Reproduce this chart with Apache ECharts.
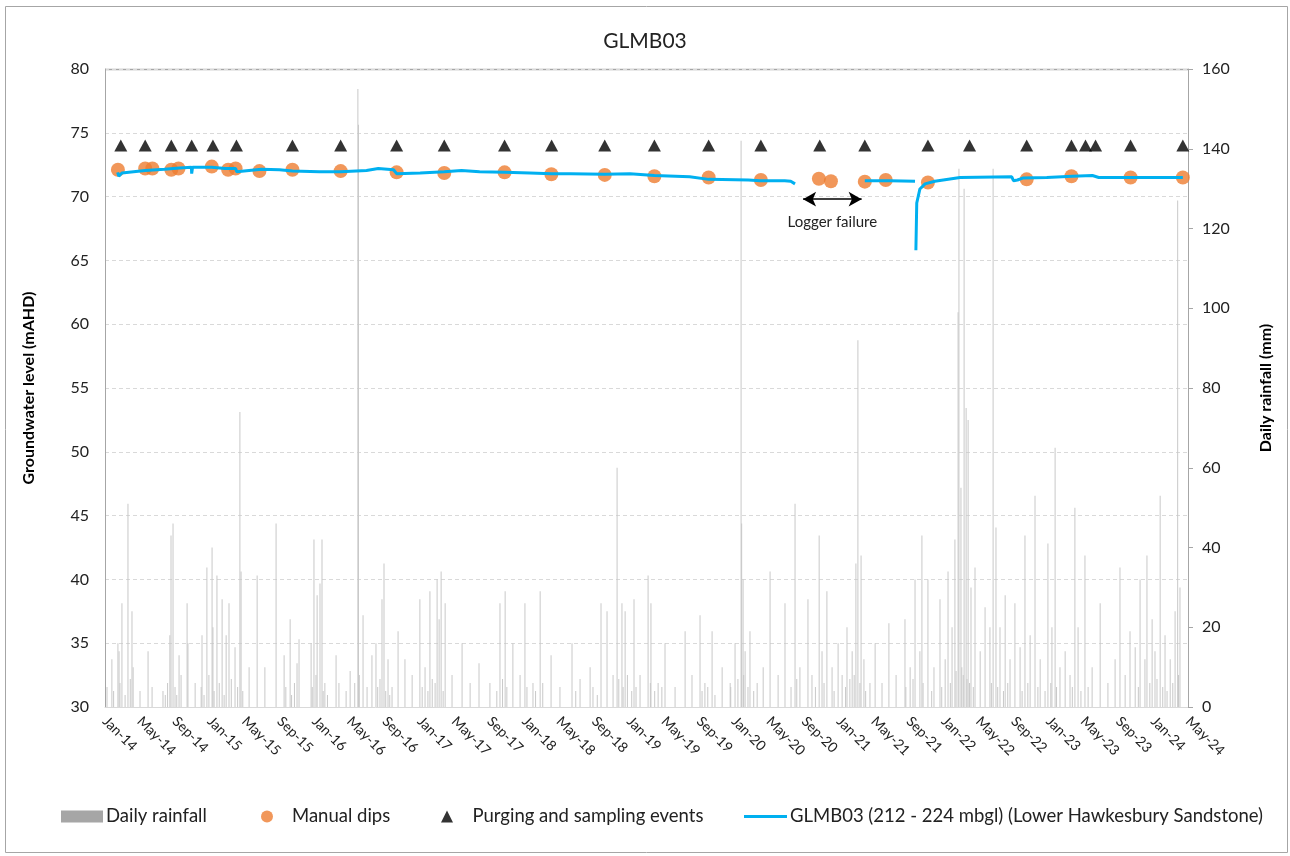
<!DOCTYPE html>
<html>
<head>
<meta charset="utf-8">
<title>GLMB03</title>
<script src="https://cdn.jsdelivr.net/npm/echarts@6/dist/echarts.min.js"></script>
<style>
  html, body { margin: 0; padding: 0; background: #fff; }
  #chart { width: 1290px; height: 856px; }
</style>
</head>
<body>
<div id="chart"></div>
<script>
// x axis tick labels (every 4 months)
var tickLabels = ['Jan-14','May-14','Sep-14','Jan-15','May-15','Sep-15','Jan-16','May-16','Sep-16',
  'Jan-17','May-17','Sep-17','Jan-18','May-18','Sep-18','Jan-19','May-19','Sep-19','Jan-20','May-20',
  'Sep-20','Jan-21','May-21','Sep-21','Jan-22','May-22','Sep-22','Jan-23','May-23','Sep-23','Jan-24','May-24'];

// daily rainfall (mm): [days since 1 Jan 2014, mm]
var rainfall = [
  [7,5],[24,12],[45,16],[49,14],[59,26],[80,51],[94,24],[98,10],[122,4],[150,14],[164,5],[202,4],
  [226,18],[230,43],[237,46],[258,13],[265,8],[286,26],[289,16],[314,6],[338,18],[355,35],[373,40],
  [376,20],[390,33],[408,27],[422,18],[432,26],[453,15],[470,74],[474,34],[502,10],[530,33],[557,10],
  [596,46],[624,13],[645,22],[669,11],[676,17],[718,16],[728,42],[739,28],[749,31],[756,42],[766,6],
  [805,13],[815,6],[854,9],[881,155],[883,146],[899,23],[913,5],[930,13],[944,16],[965,27],[972,36],
  [986,12],[1000,5],[1021,19],[1045,12],[1070,8],[1097,27],[1115,10],[1132,29],[1157,32],[1164,22],
  [1171,34],[1185,26],[1209,8],[1244,16],[1272,6],[1303,11],[1341,6],[1376,26],[1394,29],[1421,16],
  [1446,8],[1463,26],[1491,6],[1516,29],[1554,13],[1585,5],[1627,16],[1655,7],[1690,10],[1728,26],
  [1749,24],[1770,8],[1784,60],[1801,26],[1812,24],[1843,27],[1864,8],[1892,33],[1902,26],[1927,6],
  [1951,16],[1986,5],[2021,19],[2045,8],[2073,23],[2090,6],[2115,19],[2150,10],[2178,6],[2195,16],
  [2216,142],[2218,46],[2223,32],[2230,14],[2247,19],[2272,6],[2293,10],[2317,34],[2345,8],[2369,26],
  [2404,51],[2421,10],[2449,27],[2463,8],[2488,43],[2498,14],[2515,29],[2533,10],[2554,16],[2568,8],
  [2585,20],[2603,14],[2616,36],[2623,92],[2634,38],[2644,12],[2665,6],[2683,16],[2707,6],[2731,21],
  [2756,8],[2787,22],[2805,10],[2822,32],[2839,14],[2846,43],[2867,32],[2888,10],[2909,27],[2927,12],
  [2937,34],[2951,20],[2961,42],[2972,99],[2975,135],[2982,55],[2993,130],[3000,75],[3007,72],
  [3017,30],[3031,35],[3049,14],[3066,25],[3083,20],[3094,135],[3104,45],[3118,20],[3136,28],
  [3153,12],[3170,26],[3188,15],[3205,43],[3223,18],[3240,53],[3258,12],[3285,41],[3299,20],
  [3310,65],[3327,10],[3345,14],[3362,8],[3379,50],[3390,20],[3414,38],[3439,10],[3467,26],[3494,6],
  [3519,12],[3536,35],[3554,8],[3571,19],[3589,15],[3606,32],[3623,12],[3630,38],[3648,22],
  [3658,14],[3676,53],[3693,18],[3711,12],[3728,24],[3737,127],[3745,30],
  // smaller falls
  [30,4],[52,6],[70,3],[88,7],[210,3],[218,6],[244,5],[250,3],[335,5],[345,3],[362,8],[380,4],
  [398,6],[415,3],[440,7],[462,5],[480,4],[630,5],[650,3],[660,6],[722,5],[735,8],[760,4],[775,3],
  [840,4],[870,6],[886,8],[950,5],[958,7],[978,4],[992,3],[1105,5],[1125,4],[1140,7],[1150,6],
  [1178,4],[1365,4],[1385,7],[1400,5],[1470,5],[1500,4],[1525,6],[1640,4],[1700,5],[1715,3],
  [1790,7],[1805,5],[1820,8],[1835,4],[1850,5],[1900,6],[1915,4],[1940,5],[2080,4],[2100,5],
  [2125,3],[2180,5],[2205,7],[2225,8],[2240,5],[2260,4],[2390,5],[2410,7],[2475,5],[2505,6],
  [2540,4],[2580,5],[2595,7],[2610,8],[2630,6],[2650,4],[2790,5],[2815,7],[2850,6],[2880,4],
  [2915,5],[2945,6],[2965,9],[2985,10],[2990,8],[3003,7],[3012,6],[3025,5],[3088,6],[3110,5],
  [3130,4],[3145,6],[3195,4],[3215,6],[3250,5],[3275,4],[3295,6],[3315,5],[3370,5],[3400,4],
  [3425,5],[3600,5],[3640,6],[3665,7],[3685,5],[3700,4],[3720,6],[3740,8]
];

// manual dips (mAHD)
var dipDates = ['2014-02-15','2014-05-21','2014-06-15','2014-08-20','2014-09-14','2015-01-08',
  '2015-03-06','2015-04-01','2015-06-23','2015-10-16','2016-04-01','2016-10-13','2017-03-28',
  '2017-10-24','2018-04-05','2018-10-08','2019-03-30','2019-10-05','2020-04-04','2020-10-23',
  '2020-12-04','2021-04-01','2021-06-13','2021-11-07','2022-10-17','2023-03-22','2023-10-14','2024-04-13'];
var dipLevels = [72.1, 72.2, 72.2, 72.1, 72.2, 72.35, 72.1, 72.2, 72.0, 72.1, 72.0, 71.9, 71.85,
  71.9, 71.75, 71.7, 71.6, 71.5, 71.3, 71.4, 71.2, 71.17, 71.3, 71.1, 71.35, 71.6, 71.5, 71.5];

// purging and sampling events, plotted at a fixed level
var sampleDates = ['2014-02-25','2014-05-21','2014-08-20','2014-10-30','2015-01-12','2015-04-04',
  '2015-10-16','2016-04-01','2016-10-13','2017-03-28','2017-10-24','2018-04-06','2018-10-08',
  '2019-03-30','2019-10-05','2020-04-04','2020-10-26','2021-04-01','2021-11-07','2022-04-01',
  '2022-10-17','2023-03-22','2023-05-10','2023-06-14','2023-10-14','2024-04-13'];
var sampleLevel = 74;

// logger record (mAHD); '-' marks a break in the record
var loggerDates = ['2014-02-14','2014-02-18','2014-03-01','2014-05-21','2014-07-27','2014-09-18',
  '2014-10-29','2014-10-30','2014-11-02','2015-01-08','2015-02-23','2015-04-01','2015-04-05',
  '2015-06-30','2015-09-01','2015-10-16','2016-01-18','2016-04-01','2016-06-30','2016-08-10',
  '2016-10-02','2016-10-13','2017-01-03','2017-03-28','2017-05-27','2017-07-29','2017-10-24',
  '2018-01-20','2018-04-06','2018-06-12','2018-10-08','2019-01-04','2019-03-30','2019-07-31',
  '2019-10-05','2020-02-21','2020-04-01','2020-06-26','2020-07-17','2020-08-01','2020-08-02',
  '2021-04-01','2021-06-28','2021-09-23','2021-09-24','2021-09-26','2021-09-29','2021-10-10',
  '2021-10-28','2021-12-01','2022-02-27','2022-08-26','2022-09-01','2022-09-15','2022-10-03',
  '2022-12-26','2023-03-25','2023-06-03','2023-06-25','2024-04-13'];
var loggerLevels = [71.9, 71.6, 71.85, 72.05, 72.15, 72.25, 72.3, 71.8, 72.3, 72.3, 72.2, 72.2, 71.95,
  72.15, 72.1, 72.0, 71.95, 71.95, 72.05, 72.2, 72.1, 71.8, 71.85, 71.95, 72.05, 71.95, 71.9,
  71.85, 71.8, 71.8, 71.75, 71.8, 71.65, 71.55, 71.35, 71.3, 71.25, 71.25, 71.2, 71.0, '-',
  71.25, 71.25, 71.2, '-', 65.8, 69.5, 70.6, 71.0, 71.2, 71.5, 71.55, 71.25, 71.3, 71.45,
  71.5, 71.6, 71.65, 71.5, 71.5];

// logger failure arrow
var gapStart = '2020-08-29', gapEnd = '2021-03-21', gapLevel = 69.8;

var monthNames = ['Jan','Feb','Mar','Apr','May','Jun','Jul','Aug','Sep','Oct','Nov','Dec'];
function labelToTime(s) {
  var p = s.split('-');
  return new Date(2000 + parseInt(p[1], 10), monthNames.indexOf(p[0]), 1).getTime();
}
function dateToTime(s) {
  var p = s.split('-');
  return new Date(+p[0], +p[1] - 1, +p[2]).getTime();
}
var tickTimes = tickLabels.map(labelToTime);
var tickText = {};
tickTimes.forEach(function (t, i) { tickText[t] = tickLabels[i]; });
var rainData = rainfall.map(function (r) { return [new Date(2014, 0, 1 + r[0]).getTime(), r[1]]; });
var dipData = dipDates.map(function (d, i) { return [dateToTime(d), dipLevels[i]]; });
var sampleData = sampleDates.map(function (d) { return [dateToTime(d), sampleLevel]; });
var loggerData = loggerDates.map(function (d, i) { return [dateToTime(d), loggerLevels[i]]; });

var font = 'Lato';
var seriesNames = ['Daily rainfall', 'Manual dips', 'Purging and sampling events',
  'GLMB03 (212 - 224 mbgl) (Lower Hawkesbury Sandstone)'];

// one legend block per entry, so each keeps its own icon width
function legendItem(left, name, icon, color, w, h, pad) {
  return {
    left: left,
    top: 802,
    itemWidth: w,
    itemHeight: h,
    textStyle: { fontFamily: font, fontSize: 18.5, color: '#222', padding: [0, 0, 0, pad] },
    data: [{ name: name, icon: icon, itemStyle: { color: color } }]
  };
}

var chart = echarts.init(document.getElementById('chart'));
var option = {
  backgroundColor: '#fff',
  textStyle: { fontFamily: font },
  title: {
    text: 'GLMB03',
    left: 'center',
    top: 26,
    textStyle: { fontFamily: font, fontSize: 21, fontWeight: 'normal', color: '#222' }
  },
  legend: [
    legendItem(56, seriesNames[0], 'rect', '#a6a6a6', 42, 12, -2),
    legendItem(256, seriesNames[1], 'circle', '#ed7d31', 12, 12, 14),
    legendItem(436, seriesNames[2], 'path://M6,0L12,12L0,12Z', '#000', 13, 12, 14),
    legendItem(739, seriesNames[3], 'path://M0,0H43V3H0Z', '#00b0f0', 43, 12, -2)
  ],
  grid: { left: 105, right: 102, top: 69, bottom: 149 },
  xAxis: {
    type: 'value',
    min: tickTimes[0],
    max: tickTimes[tickTimes.length - 1],
    axisLine: { show: true, lineStyle: { color: '#d9d9d9' } },
    axisTick: { show: false },
    splitLine: { show: false },
    axisLabel: {
      customValues: tickTimes,
      rotate: -45,
      margin: 12,
      fontFamily: font,
      fontSize: 14,
      color: '#222',
      formatter: function (v) { return tickText[v] || ''; }
    }
  },
  yAxis: [
    {
      type: 'value',
      position: 'left',
      min: 30, max: 80, interval: 5,
      name: 'Groundwater level (mAHD)',
      nameLocation: 'middle',
      nameRotate: 90,
      nameGap: 68,
      nameTextStyle: { fontFamily: font, fontSize: 16, fontWeight: 'bold', color: '#000' },
      axisLine: { show: true, lineStyle: { color: '#a6a6a6', width: 1 } },
      axisTick: { show: false },
      axisLabel: { fontFamily: font, fontSize: 16, color: '#222', margin: 16 },
      splitLine: { show: true, lineStyle: { color: '#d9d9d9', type: [4, 3] } }
    },
    {
      type: 'value',
      position: 'right',
      min: 0, max: 160, interval: 20,
      name: 'Daily rainfall (mm)',
      nameLocation: 'middle',
      nameRotate: 90,
      nameGap: 70,
      nameTextStyle: { fontFamily: font, fontSize: 16, fontWeight: 'bold', color: '#000' },
      axisLine: { show: true, lineStyle: { color: '#a6a6a6', width: 1 } },
      axisTick: { show: true, inside: false, length: 5, lineStyle: { color: '#a6a6a6' } },
      axisLabel: { fontFamily: font, fontSize: 16, color: '#222', margin: 14 },
      splitLine: { show: false }
    }
  ],
  graphic: [
    { type: 'rect', shape: { x: 5.5, y: 6.5, width: 1282, height: 846 },
      style: { fill: 'none', stroke: '#a6a6a6', lineWidth: 1 }, silent: true },
    { type: 'line', shape: { x1: 105, y1: 69.5, x2: 1188, y2: 69.5 },
      style: { stroke: '#a6a6a6', lineWidth: 1.5 }, silent: true }
  ],
  series: [
    {
      name: seriesNames[0],
      type: 'bar',
      yAxisIndex: 1,
      barWidth: 1,
      silent: true,
      itemStyle: { color: '#c8c8c8' },
      z: 1,
      data: rainData
    },
    {
      name: seriesNames[1],
      type: 'scatter',
      symbol: 'circle',
      symbolSize: 14,
      itemStyle: { color: '#ed7d31' },
      z: 3,
      data: dipData
    },
    {
      name: seriesNames[2],
      type: 'scatter',
      symbol: 'triangle',
      symbolSize: [13, 12],
      itemStyle: { color: '#000' },
      z: 3,
      data: sampleData
    },
    {
      name: seriesNames[3],
      type: 'line',
      showSymbol: false,
      connectNulls: false,
      lineStyle: { color: '#00b0f0', width: 3 },
      itemStyle: { color: '#00b0f0' },
      z: 4,
      data: loggerData,
      markLine: {
        silent: true,
        symbol: ['arrow', 'arrow'],
        symbolSize: [11, 13],
        lineStyle: { color: '#000', width: 1.5, type: 'solid' },
        label: {
          show: true,
          position: 'insideMiddleBottom',
          distance: 16,
          formatter: 'Logger failure',
          fontFamily: font,
          fontSize: 15,
          color: '#222'
        },
        data: [[
          { coord: [dateToTime(gapStart), gapLevel] },
          { coord: [dateToTime(gapEnd), gapLevel] }
        ]]
      }
    }
  ]
};
chart.setOption(option);
</script>
</body>
</html>
